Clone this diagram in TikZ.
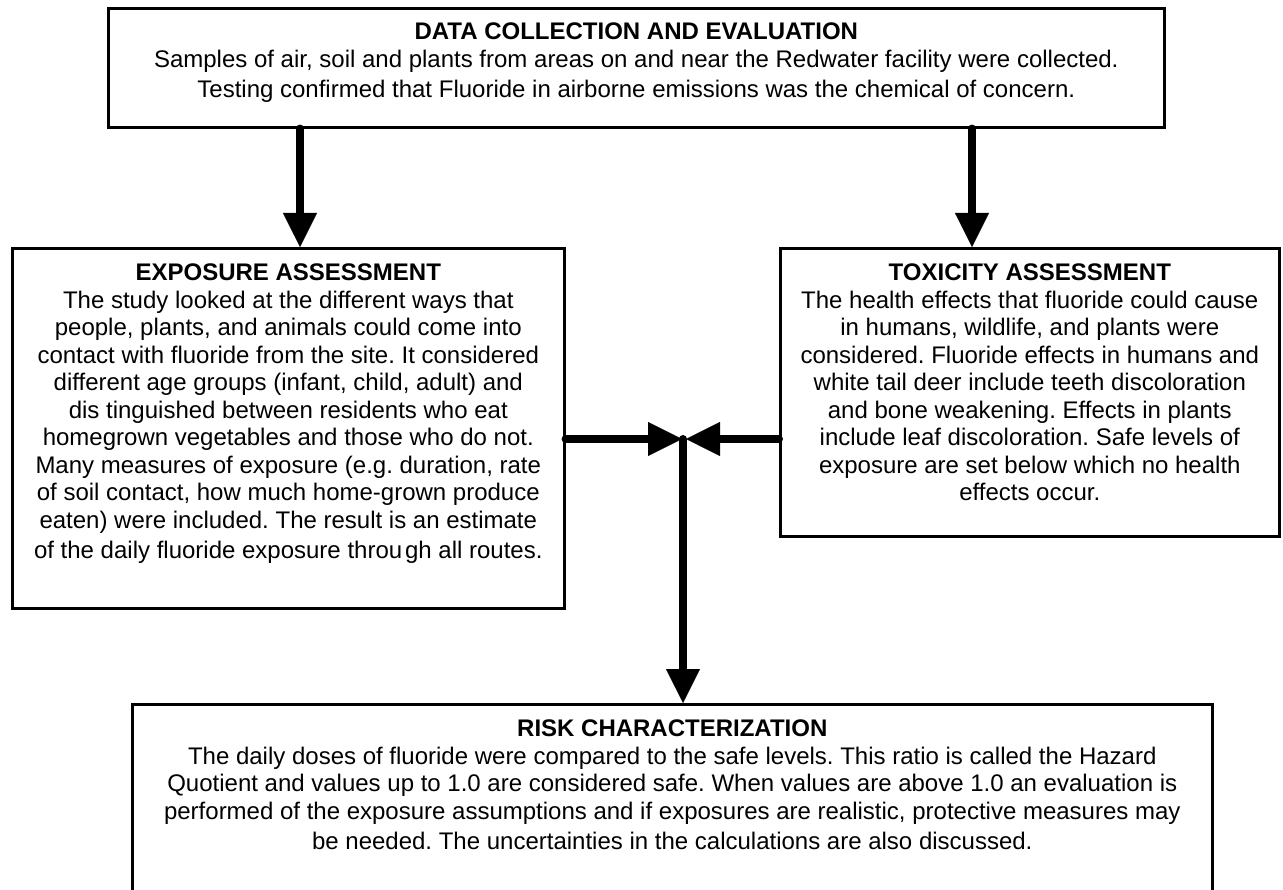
\documentclass[tikz,border=0pt]{standalone}
\usepackage{fontspec}
\setmainfont{Liberation Sans}
\usetikzlibrary{arrows.meta}
\frenchspacing
\begin{document}
\begin{tikzpicture}[x=1pt,y=-1pt,
  frame/.style={draw, line width=2.6pt, rectangle, inner sep=0pt, anchor=north west},
  txt/.style={anchor=north, inner sep=0pt, align=center,
    font=\fontsize{24pt}{27.5pt}\selectfont},
  conn/.style={line width=8pt, line cap=round,
    -{Triangle[width=34pt,length=34pt,line width=0.1pt]}}
]
\useasboundingbox (0,0) rectangle (1283,890);
\fill[white] (0,0) rectangle (1283,890);
\clip (0,0) rectangle (1283,890);

% boxes
\node[frame, minimum width=1056pt, minimum height=119pt] (dc) at (107,7) {};
\node[frame, minimum width=552pt, minimum height=360pt] (ea) at (11,247) {};
\node[frame, minimum width=499pt, minimum height=288pt] (ta) at (779,247) {};
\node[frame, minimum width=1080pt, minimum height=200pt] (rc) at (131,703) {};

% texts
\node[txt] (dct) at ([yshift=-16pt]dc.north) {\textbf{DATA COLLECTION AND EVALUATION}\\
Samples of air, soil and plants from areas on and near the Redwater facility were collected.\\[3pt]
Testing confirmed that Fluoride in airborne emissions was the chemical of concern.};

\node[txt] (eat) at ([yshift=-17pt]ea.north) {\textbf{EXPOSURE ASSESSMENT}\\
The study looked at the different ways that\\
people, plants, and animals could come into\\
contact with fluoride from the site. It considered\\
different age groups (infant, child, adult) and\\
dis tinguished between residents who eat\\
homegrown vegetables and those who do not.\\
Many measures of exposure (e.g. duration, rate\\
of soil contact, how much home-grown produce\\
eaten) were included. The result is an estimate\\[3pt]
of the daily fluoride exposure throu\hspace{0.12em}gh all routes.};

\node[txt] (tat) at ([yshift=-17pt]ta.north) {\textbf{TOXICITY ASSESSMENT}\\
The health effects that fluoride could cause\\
in humans, wildlife, and plants were\\
considered. Fluoride effects in humans and\\
white tail deer include teeth discoloration\\
and bone weakening. Effects in plants\\
include leaf discoloration. Safe levels of\\
exposure are set below which no health\\
effects occur.};

\node[txt] (rct) at ([yshift=-17pt]rc.north) {\textbf{RISK CHARACTERIZATION}\\
The daily doses of fluoride were compared to the safe levels. This ratio is called the Hazard\\
Quotient and values up to 1.0 are considered safe. When values are above 1.0 an evaluation is\\
performed of the exposure assumptions and if exposures are realistic, protective measures may\\[3pt]
be needed. The uncertainties in the calculations are also discussed.};

% connector guides
\coordinate (xl) at (300,0);
\coordinate (xr) at (972,0);
\coordinate (hub) at (683,439);

% connectors
\draw[conn] (xl |- dc.south) -- (xl |- ea.north);
\draw[conn] (xr |- dc.south) -- (xr |- ta.north);
\draw[conn] (ea.east |- hub) -- ([xshift=-1pt]hub);
\draw[conn] (ta.west |- hub) -- ([xshift=3pt]hub);
\draw[conn] (hub) -- (hub |- rc.north);
\end{tikzpicture}
\end{document}
